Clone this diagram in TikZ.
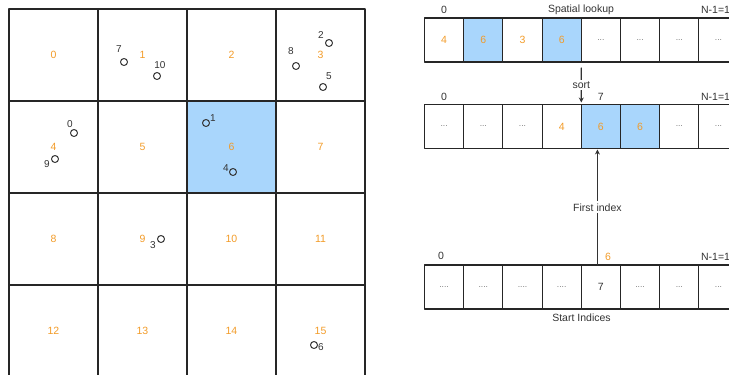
\documentclass[tikz,border=0pt]{standalone}
\usepackage{fontspec}
\setmainfont{Liberation Sans}
\usetikzlibrary{arrows.meta}

\definecolor{cellblue}{RGB}{169,214,252}
\definecolor{idxorange}{RGB}{242,155,40}
\definecolor{inkgray}{RGB}{51,51,51}

\begin{document}
\begin{tikzpicture}[x=1pt, y=-1pt, line width=1.1pt, line cap=round, line join=round,
  gridcell/.style={draw=black!85, minimum width=89, minimum height=92, inner sep=0pt, outer sep=0pt, text=idxorange, font=\fontsize{10.5}{12}\selectfont},
  arrcell/.style={draw=black!85, minimum width=39.2, minimum height=44, inner sep=0pt, outer sep=0pt, font=\fontsize{10.5}{12}\selectfont},
  orng/.style={text=idxorange},
  dots/.style={text=black!55, font=\fontsize{8.5}{10}\selectfont},
  hit/.style={fill=cellblue},
  pt/.style={draw=inkgray, circle, minimum size=7, inner sep=0pt, line width=1pt},
  ptlbl/.style={text=inkgray, inner sep=0pt, font=\fontsize{10}{12}\selectfont},
  toplbl/.style={text=inkgray, inner sep=0pt, font=\fontsize{10.5}{12}\selectfont},
  link/.style={draw=inkgray, line width=1.2pt, -{Stealth[length=5pt,width=5pt]}}]

  %% ════ 网格 4x4（左边）════
  \node[gridcell] (g0)  at (53.5,55)   {0};
  \node[gridcell] (g1)  at (142.5,55)  {1};
  \node[gridcell] (g2)  at (231.5,55)  {2};
  \node[gridcell] (g3)  at (320.5,55)  {3};
  \node[gridcell] (g4)  at (53.5,147)  {4};
  \node[gridcell] (g5)  at (142.5,147) {5};
  \node[gridcell,hit] (g6)  at (231.5,147) {6};
  \node[gridcell] (g7)  at (320.5,147) {7};
  \node[gridcell] (g8)  at (53.5,239)  {8};
  \node[gridcell] (g9)  at (142.5,239) {9};
  \node[gridcell] (g10) at (231.5,239) {10};
  \node[gridcell] (g11) at (320.5,239) {11};
  \node[gridcell] (g12) at (53.5,331)  {12};
  \node[gridcell] (g13) at (142.5,331) {13};
  \node[gridcell] (g14) at (231.5,331) {14};
  \node[gridcell] (g15) at (320.5,331) {15};

  %% ════ 点 + 编号 ════
  \node[pt] (p0)  at (74,133)  {};  \node[ptlbl] (n0)  at (70,124)  {0};
  \node[pt] (p1)  at (206,123) {};  \node[ptlbl] (n1)  at (213,118) {1};
  \node[pt] (p2)  at (329,43)  {};  \node[ptlbl] (n2)  at (321,35)  {2};
  \node[pt] (p3)  at (161,239) {};  \node[ptlbl] (n3)  at (153,245) {3};
  \node[pt] (p4)  at (233,172) {};  \node[ptlbl] (n4)  at (226,168) {4};
  \node[pt] (p5)  at (323,87)  {};  \node[ptlbl] (n5)  at (329,76)  {5};
  \node[pt] (p6)  at (314,345) {};  \node[ptlbl] (n6)  at (321,347) {6};
  \node[pt] (p7)  at (124,62)  {};  \node[ptlbl] (n7)  at (119,49)  {7};
  \node[pt] (p8)  at (296,66)  {};  \node[ptlbl] (n8)  at (291,51)  {8};
  \node[pt] (p9)  at (55,159)  {};  \node[ptlbl] (n9)  at (47,164)  {9};
  \node[pt] (p10) at (157,76)  {};  \node[ptlbl] (n10) at (160,65)  {10};

  %% ════ Spatial lookup 行 ════
  \node[arrcell,orng]     (L0) at (444.1,40) {4};
  \node[arrcell,orng,hit] (L1) at (483.3,40) {6};
  \node[arrcell,orng]     (L2) at (522.5,40) {3};
  \node[arrcell,orng,hit] (L3) at (561.7,40) {6};
  \node[arrcell,dots]     (L4) at (600.9,40) {...};
  \node[arrcell,dots]     (L5) at (640.1,40) {...};
  \node[arrcell,dots]     (L6) at (679.3,40) {...};
  \node[arrcell,dots]     (L7) at (718.5,40) {...};
  \node[toplbl] (Lfirst) at (444.1,10) {0};
  \node[toplbl] (Ltitle) at (581,10)   {Spatial lookup};
  \node[toplbl] (Llast)  at (718.5,10) {N-1=10};

  %% ════ 排序后的行 ════
  \node[arrcell,dots]     (S0) at (444.1,126.5) {...};
  \node[arrcell,dots]     (S1) at (483.3,126.5) {...};
  \node[arrcell,dots]     (S2) at (522.5,126.5) {...};
  \node[arrcell,orng]     (S3) at (561.7,126.5) {4};
  \node[arrcell,orng,hit] (S4) at (600.9,126.5) {6};
  \node[arrcell,orng,hit] (S5) at (640.1,126.5) {6};
  \node[arrcell,dots]     (S6) at (679.3,126.5) {...};
  \node[arrcell,dots]     (S7) at (718.5,126.5) {...};
  \node[toplbl] (Sfirst) at (444.1,96.5) {0};
  \node[toplbl] (Sseven) at (600.9,96.5) {7};
  \node[toplbl] (Slast)  at (718.5,96.5) {N-1=10};

  %% ════ Start Indices 行 ════
  \node[arrcell,dots] (I0) at (444.1,287) {....};
  \node[arrcell,dots] (I1) at (483.3,287) {....};
  \node[arrcell,dots] (I2) at (522.5,287) {....};
  \node[arrcell,dots] (I3) at (561.7,287) {....};
  \node[arrcell,text=inkgray] (I4) at (600.9,287) {7};
  \node[arrcell,dots] (I5) at (640.1,287) {....};
  \node[arrcell,dots] (I6) at (679.3,287) {...};
  \node[arrcell,dots] (I7) at (718.5,287) {...};
  \node[toplbl] (Ifirst) at (441,256)  {0};
  \node[toplbl,orng] (Isix) at (608,257) {6};
  \node[toplbl] (Ilast)  at (718.5,257) {N-1=10};
  \node[toplbl] (Ititle) at (581.5,318) {Start Indices};

  %% ════ 箭头 ════
  \draw[link] ([yshift=-6pt]L3.south east) -- node[fill=white, toplbl, inner sep=1.5pt] {sort} ([yshift=2pt]S4.north west);
  \draw[link] ([xshift=-3.5pt]I4.north) -- node[fill=white, toplbl, inner sep=2pt] {First index} ([xshift=-3.5pt,yshift=-1pt]S4.south);

  % 钉死画布
  \pgfresetboundingbox
  \path[use as bounding box] (0,0) rectangle (729,375);
\end{tikzpicture}
\end{document}
